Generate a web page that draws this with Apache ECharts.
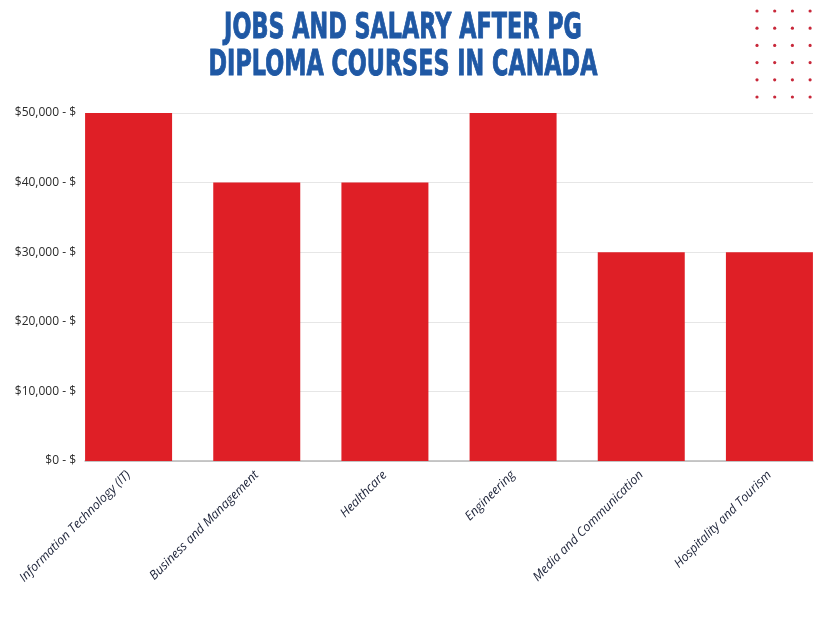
<!DOCTYPE html>
<html>
<head>
<meta charset="utf-8">
<script src="https://cdn.jsdelivr.net/npm/echarts@6/dist/echarts.min.js"></script>
<style>
  html, body { margin: 0; padding: 0; background: #fff; }
  #main { width: 828px; height: 621px; }
</style>
</head>
<body>
<div id="main"></div>
<script>
// data
var categories = ['Information Technology (IT)', 'Business and Management', 'Healthcare',
                  'Engineering', 'Media and Communication', 'Hospitality and Tourism'];
var salaries = [50000, 40000, 40000, 50000, 30000, 30000];
var yTicks = [0, 10000, 20000, 30000, 40000, 50000];
var titleLines = ['JOBS AND SALARY AFTER PG', 'DIPLOMA COURSES IN CANADA'];

var myChart = echarts.init(document.getElementById('main'));

// dotted decoration top right
var dots = [];
for (var r = 0; r < 6; r++) {
  for (var c = 0; c < 4; c++) {
    dots.push({
      type: 'circle',
      shape: { cx: 757 + c * 17.7, cy: 11 + r * 17.2, r: 1.6 },
      style: { fill: '#c8283a' },
      silent: true
    });
  }
}

// condensed look: squeeze a bold font horizontally
var titleGraphics = titleLines.map(function (t, i) {
  return {
    type: 'text',
    x: 403,
    y: 11 + i * 37,
    scaleX: 0.62,
    style: {
      text: t,
      align: 'center',
      verticalAlign: 'top',
      font: 'bold 36px "DejaVu Sans", sans-serif',
      fill: '#1f58a4',
      stroke: '#1f58a4',
      lineWidth: 1
    }
  };
});

var option = {
  animation: false,
  backgroundColor: '#fff',
  graphic: titleGraphics.concat(dots),
  grid: [
    { left: 85, right: 15, top: 113, bottom: 160, outerBoundsMode: 'none', containLabel: false },
    { left: 64.5, width: 769, top: 113, bottom: 160, outerBoundsMode: 'none', containLabel: false }
  ],
  xAxis: [
    {
      gridIndex: 0,
      type: 'category',
      data: categories,
      axisLine: { lineStyle: { color: '#b8b8b8', width: 1.5 } },
      axisTick: { show: false },
      axisLabel: { show: false }
    },
    {
      gridIndex: 1,
      type: 'category',
      data: categories,
      axisLine: { show: false },
      axisTick: { show: false },
      axisLabel: {
        rotate: 45,
        margin: 12,
        interval: 0,
        color: '#1a2036',
        fontSize: 12.5,
        fontStyle: 'italic',
        fontFamily: '"Open Sans", sans-serif'
      }
    }
  ],
  yAxis: [
    {
      gridIndex: 0,
      type: 'value',
      min: yTicks[0],
      max: yTicks[yTicks.length - 1],
      interval: yTicks[1] - yTicks[0],
      axisLine: { show: false },
      axisTick: { show: false },
      splitLine: { lineStyle: { color: '#e6e6e6', width: 1 } },
      axisLabel: {
        margin: 9,
        color: '#2a2a2a',
        fontSize: 12,
        fontFamily: '"Open Sans", sans-serif',
        formatter: function (v) {
          return '$' + v.toLocaleString('en-US') + ' - $';
        }
      }
    },
    {
      gridIndex: 1,
      type: 'value',
      min: yTicks[0],
      max: yTicks[yTicks.length - 1],
      show: false,
      splitLine: { show: false }
    }
  ],
  series: [
    {
      type: 'bar',
      xAxisIndex: 1,
      yAxisIndex: 1,
      data: salaries,
      barWidth: 87,
      itemStyle: { color: '#df1f26' }
    }
  ]
};

myChart.setOption(option);
</script>
</body>
</html>
